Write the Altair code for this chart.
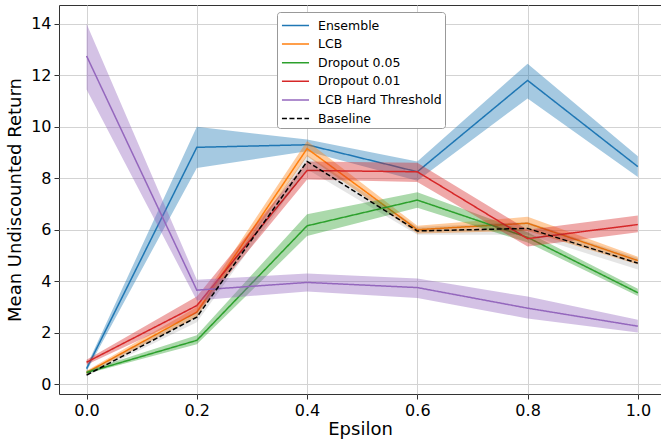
import altair as alt
import pandas as pd

eps = [0.0, 0.2, 0.4, 0.6, 0.8, 1.0]
series_names = ["Ensemble", "LCB", "Dropout 0.05", "Dropout 0.01", "LCB Hard Threshold", "Baseline"]
series_colors = ["#1f77b4", "#ff7f0e", "#2ca02c", "#d62728", "#9467bd", "#000000"]
band_colors = ["#1f77b4", "#ff7f0e", "#2ca02c", "#d62728", "#9467bd", "#000000"]

ensemble_mean = [0.6, 9.2, 9.3, 8.25, 11.8, 8.45]
ensemble_lo = [0.5, 8.4, 9.05, 7.9, 11.1, 8.05]
ensemble_hi = [0.7, 10.0, 9.5, 8.65, 12.45, 8.85]

lcb_mean = [0.45, 2.8, 9.15, 6.0, 6.25, 4.8]
lcb_lo = [0.38, 2.6, 8.85, 5.85, 5.95, 4.65]
lcb_hi = [0.52, 3.0, 9.45, 6.15, 6.5, 4.95]

drop05_mean = [0.45, 1.7, 6.15, 7.15, 5.7, 3.55]
drop05_lo = [0.4, 1.55, 5.75, 6.85, 5.5, 3.42]
drop05_hi = [0.52, 1.9, 6.6, 7.45, 5.9, 3.7]

drop01_mean = [0.85, 3.05, 8.3, 8.25, 5.65, 6.2]
drop01_lo = [0.75, 2.75, 7.95, 7.85, 5.35, 5.9]
drop01_hi = [0.95, 3.4, 8.65, 8.6, 6.0, 6.55]

lcbh_mean = [12.75, 3.65, 3.95, 3.75, 2.95, 2.25]
lcbh_lo = [11.45, 3.25, 3.6, 3.35, 2.55, 2.0]
lcbh_hi = [14.0, 4.05, 4.3, 4.1, 3.4, 2.5]

base_mean = [0.35, 2.6, 8.65, 5.95, 6.05, 4.7]
base_lo = [0.3, 2.4, 8.35, 5.8, 5.8, 4.45]
base_hi = [0.45, 2.8, 8.9, 6.1, 6.3, 4.9]

means = [ensemble_mean, lcb_mean, drop05_mean, drop01_mean, lcbh_mean, base_mean]
los = [ensemble_lo, lcb_lo, drop05_lo, drop01_lo, lcbh_lo, base_lo]
his = [ensemble_hi, lcb_hi, drop05_hi, drop01_hi, lcbh_hi, base_hi]

rows = []
for name, m, lo, hi in zip(series_names, means, los, his):
    for e, a, b, c in zip(eps, m, lo, hi):
        rows.append({"eps": e, "series": name, "mean": a, "lo": b, "hi": c})
df = pd.DataFrame(rows)

xs = alt.Scale(domain=[-0.05, 1.042], nice=False, zero=False)
ys = alt.Scale(domain=[-0.385, 14.73], nice=False, zero=False)
x_axis = alt.Axis(values=eps, format=".1f", title="Epsilon")
y_axis = alt.Axis(values=[0, 2, 4, 6, 8, 10, 12, 14], title="Mean Undiscounted Return")

dash_range = [[1, 0]] * 5 + [[5, 2.5]]

layers = []
for i, name in enumerate(series_names):
    base = alt.Chart(df).transform_filter(alt.datum.series == name)
    band = base.mark_area(opacity=0.4 if name != "Baseline" else 0.1, color=band_colors[i]).encode(
        x=alt.X("eps:Q", scale=xs, axis=x_axis),
        y=alt.Y("lo:Q", scale=ys, axis=y_axis),
        y2="hi:Q",
    )
    line = base.mark_line(strokeWidth=1.5).encode(
        x=alt.X("eps:Q", scale=xs, axis=x_axis),
        y=alt.Y("mean:Q", scale=ys, axis=y_axis),
        color=alt.Color("series:N", scale=alt.Scale(domain=series_names, range=series_colors),
                        legend=alt.Legend(title=None)),
        strokeDash=alt.StrokeDash("series:N", scale=alt.Scale(domain=series_names, range=dash_range),
                                  legend=alt.Legend(title=None)),
    )
    layers += [band, line]

chart = alt.layer(*layers).properties(
    width=602, height=389,
    autosize=alt.AutoSizeParams(type="none"),
    padding={"left": 59, "top": 5, "right": 0, "bottom": 45},
).configure_view(
    stroke="#333333", strokeWidth=1
).configure_axis(
    labelFont="DejaVu Sans", titleFont="DejaVu Sans",
    labelFontSize=16, titleFontSize=18, titleFontWeight="normal",
    labelColor="#000000", titleColor="#000000",
    grid=True, gridColor="#d3d3d3", gridWidth=1,
    domain=False, tickColor="#333333", tickSize=5, labelPadding=3,
).configure_axisX(titlePadding=2).configure_axisY(titlePadding=6).configure_legend(
    orient="none", legendX=218, legendY=7,
    fillColor="white", strokeColor="#999999", cornerRadius=3, padding=3,
    labelFont="DejaVu Sans", labelFontSize=12.5, labelColor="#000000",
    symbolType="M-0.9,0H1.95", symbolSize=361, symbolStrokeWidth=1.5, labelOffset=17,
    rowPadding=1.6, symbolFillColor="transparent",
)

chart.save("out.html", embed_options={"renderer": "svg", "actions": False})
